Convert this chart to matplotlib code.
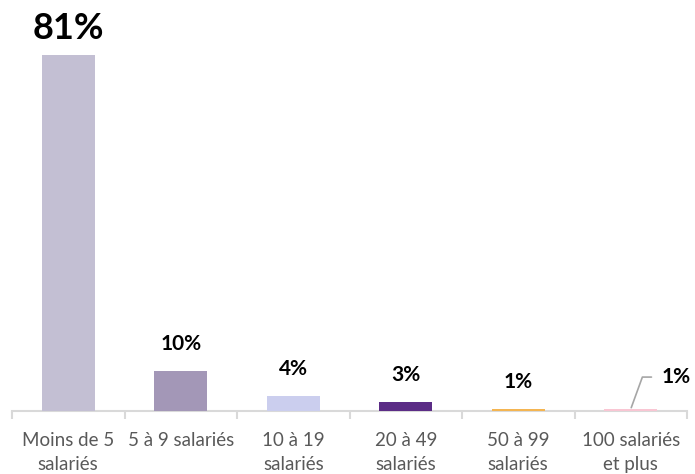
import matplotlib
matplotlib.use("Agg")
import matplotlib.pyplot as plt
import numpy as np

categories = ["Moins de 5\nsalariés", "5 à 9 salariés", "10 à 19\nsalariés",
              "20 à 49\nsalariés", "50 à 99\nsalariés", "100 salariés\net plus"]
values = [81, 9.1, 3.4, 2.1, 0.45, 0.45]
labels = ["81%", "10%", "4%", "3%", "1%", "1%"]
colors = ["#C3BFD3", "#A397B7", "#CBCEEE", "#5B2C86", "#F4B552", "#F9C6D3"]

plt.rcParams['font.family'] = ['Lato', 'DejaVu Sans']

fig = plt.figure(figsize=(6.95, 4.74), dpi=100)
ax = fig.add_axes([12/695, 63/474, 675/695, 401/474])

x = np.arange(len(categories))
bars = ax.bar(x, values, width=0.47, color=colors, zorder=3)

ax.set_xlim(-0.5, len(categories) - 0.5)
ax.set_ylim(0, 401/4.395)

for sp in ["top", "right", "left"]:
    ax.spines[sp].set_visible(False)
ax.spines["bottom"].set_color("#D9D9D9")
ax.spines["bottom"].set_linewidth(1.5)
ax.spines["bottom"].set_zorder(1)
ax.set_yticks([])

ax.set_xticks(x)
ax.set_xticklabels(categories, fontsize=13.5, color="#595959", linespacing=1.5)
ax.tick_params(axis="x", which="major", length=0, pad=15)
ax.set_xticks(np.arange(-0.5, len(categories)), minor=True)
ax.tick_params(axis="x", which="minor", length=6, width=1.5, color="#D9D9D9")

for i, (v, lab) in enumerate(zip(values, labels)):
    if i == 0:
        ax.annotate(lab, (i, v), xytext=(0, 19.4), textcoords="offset points",
                    ha="center", va="center", fontsize=26, fontweight="bold")
    elif i == len(values) - 1:
        ax.annotate(lab, (i, v), xytext=(32.4, 23), textcoords="offset points",
                    ha="center", va="center", fontsize=15, fontweight="bold",
                    arrowprops=dict(arrowstyle="-", color="#A6A6A6", lw=1.2,
                                    shrinkA=5, shrinkB=1,
                                    connectionstyle="angle,angleA=0,angleB=70,rad=0"))
    else:
        ax.annotate(lab, (i, v), xytext=(0, 19.4), textcoords="offset points",
                    ha="center", va="center", fontsize=15, fontweight="bold")

fig.savefig("out.png", dpi=100)
